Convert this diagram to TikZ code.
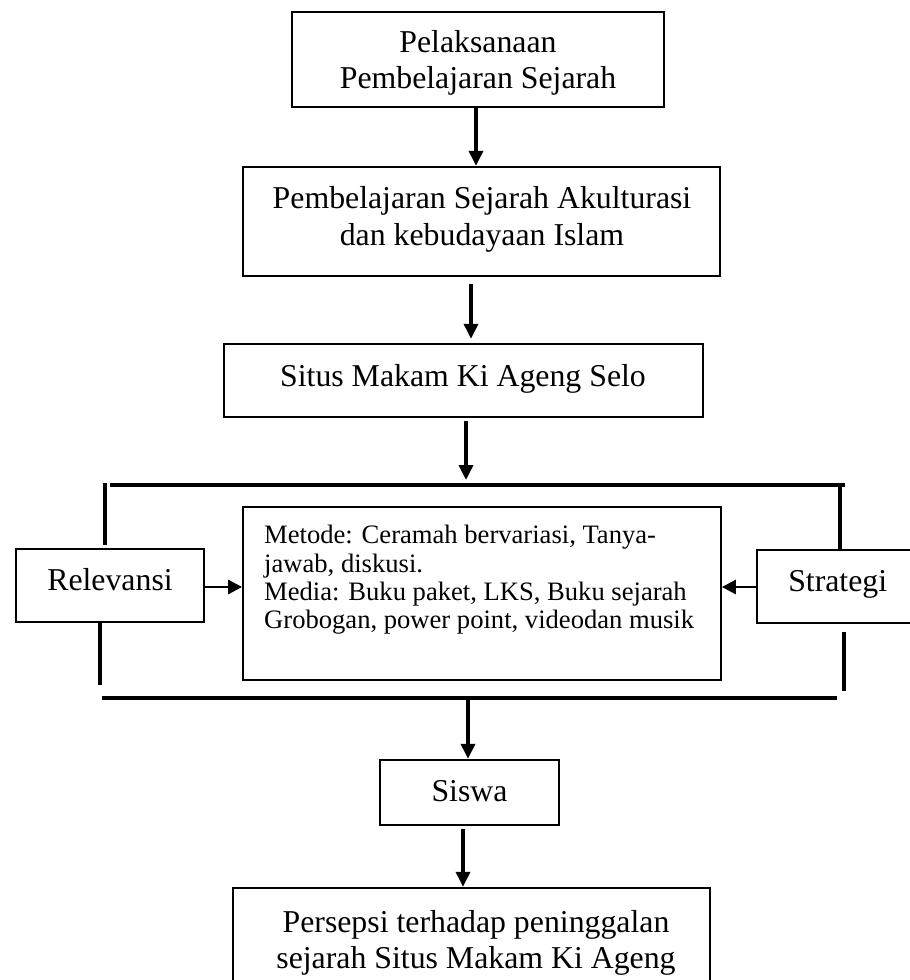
\documentclass[tikz,border=0pt]{standalone}
\usepackage{fontspec}
\setmainfont{Liberation Serif}
\usetikzlibrary{arrows.meta}
\begin{document}
\begin{tikzpicture}[x=1pt,y=-1pt,
  boxn/.style={draw,line width=2.4pt,inner sep=0pt},
  thinbox/.style={draw,line width=1.8pt,inner sep=0pt},
  big/.style={inner sep=0pt,anchor=base,font=\fontsize{31.8}{37}\selectfont},
  small/.style={inner sep=0pt,anchor=base west,font=\fontsize{26.6}{28.5}\selectfont},
  arr/.style={line width=3.5pt,-{Triangle[length=15pt,width=14pt]}},
  harr/.style={line width=2.8pt,-{Triangle[length=14pt,width=14pt]}},
  bracket/.style={line width=4pt}]
\useasboundingbox (0,0) rectangle (910,980);
\clip (0,0) rectangle (910,980);
% boxes
\node[boxn,minimum width=372pt,minimum height=95pt] (b1) at (478,59.5) {};
\node[boxn,minimum width=477pt,minimum height=109pt] (b2) at (481.5,221.5) {};
\node[boxn,minimum width=479pt,minimum height=73pt] (b3) at (463.5,380.5) {};
\node[boxn,minimum width=188pt,minimum height=73pt] (rel) at (110,585.5) {};
\node[thinbox,minimum width=478pt,minimum height=173pt] (cb) at (482,593.5) {};
\node[boxn,minimum width=161pt,minimum height=73pt] (str) at (837.5,586.5) {};
\node[boxn,minimum width=179pt,minimum height=65pt] (sis) at (469.5,792.5) {};
\node[boxn,minimum width=477pt,minimum height=122pt] (fin) at (471.5,949) {};
% texts
\node[big] (t1a) at (478,52) {Pelaksanaan};
\node[big] (t1b) at (478,88) {Pembelajaran Sejarah};
\node[big] (t2a) at (482,208) {Pembelajaran Sejarah Akulturasi};
\node[big] (t2b) at (482,245.5) {dan kebudayaan Islam};
\node[big] (t3) at (463,386) {Situs Makam Ki Ageng Selo};
\node[big] (trel) at (110,590) {Relevansi};
\node[big] (tstr) at (837.7,591.5) {Strategi};
\node[big] (tsis) at (469.5,801) {Siswa};
\node[big] (tfa) at (476,932) {Persepsi terhadap peninggalan};
\node[big] (tfb) at (476,968) {sejarah Situs Makam Ki Ageng};
\node[small] (c1) at (264,543) {Metode: Ceramah bervariasi, Tanya-};
\node[small] (c2) at (264,572) {jawab, diskusi.};
\node[small] (c3) at (264,600) {Media: Buku paket, LKS, Buku sejarah};
\node[small] (c4) at (264,628) {Grobogan, power point, videodan musik};
% coordinates for connectors
\coordinate (x1) at (476,0);
\coordinate (x2) at (471,0);
\coordinate (x3) at (466,0);
\coordinate (x4) at (468,0);
\coordinate (x5) at (463,0);
\coordinate (topL) at (110,485);
\coordinate (topR) at (845,485);
\coordinate (botL) at (102,698);
\coordinate (botR) at (837,698);
\coordinate (lu1) at (105,483);
\coordinate (lu2) at (105,545);
\coordinate (ll1) at (100,622);
\coordinate (ll2) at (100,685);
\coordinate (ru1) at (840,485);
\coordinate (ru2) at (840,550);
\coordinate (rl1) at (844,632);
\coordinate (rl2) at (844,691);
% bracket lines
\draw[bracket] (topL) -- (topR);
\draw[bracket] (botL) -- (botR);
\draw[bracket] (lu1) -- (lu2);
\draw[bracket] (ll1) -- (ll2);
\draw[bracket] (ru1) -- (ru2);
\draw[bracket] (rl1) -- (rl2);
% arrows
\draw[arr] (b1.south -| x1) -- (b2.north -| x1);
\draw[arr] ([yshift=-7pt]b2.south -| x2) -- ([yshift=4pt]b3.north -| x2);
\draw[arr] ([yshift=-3pt]b3.south -| x3) -- ([yshift=5pt]topL -| x3);
\draw[arr] (botL -| x4) -- (sis.north -| x4);
\draw[arr] ([yshift=-3pt]sis.south -| x5) -- (fin.north -| x5);
\draw[harr] (rel.east |- 0,587) -- (cb.west |- 0,587);
\draw[harr] (str.west |- 0,587) -- (cb.east |- 0,587);
\end{tikzpicture}
\end{document}
